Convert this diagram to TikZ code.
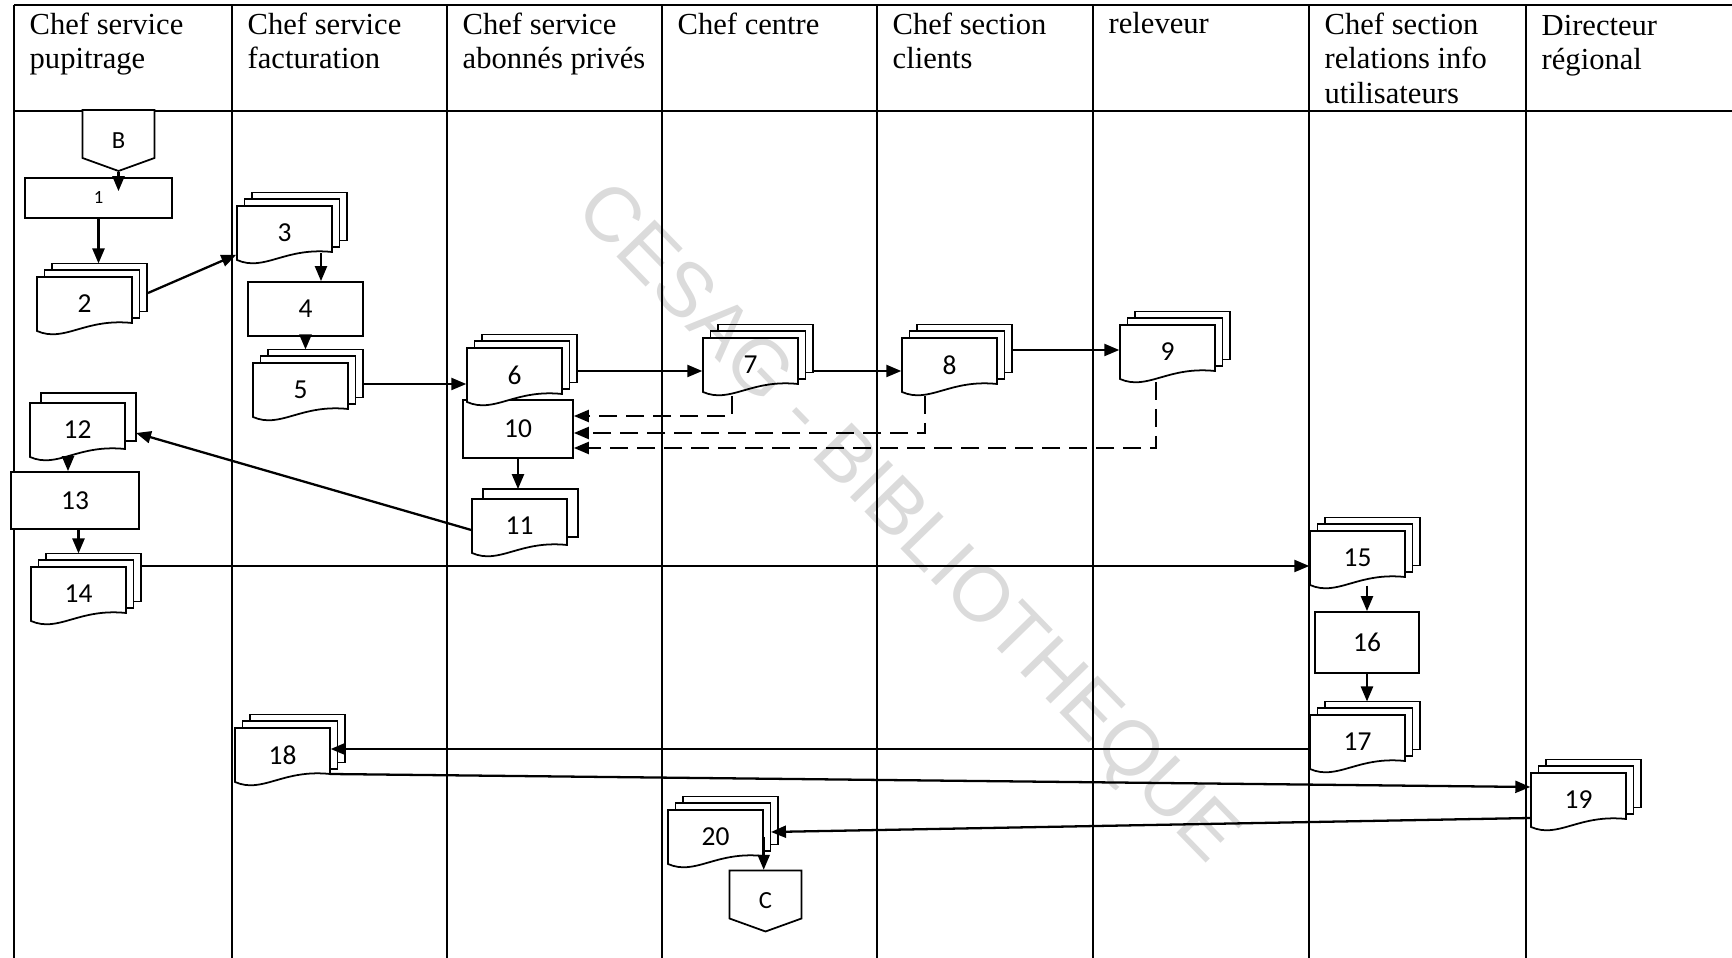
\documentclass[tikz,border=0pt]{standalone}
\usepackage{fontspec}
\setmainfont{Liberation Serif}
\newfontfamily\numfont{Carlito}
\newfontfamily\stampfont{Liberation Sans}
\usetikzlibrary{arrows.meta,calc}
\tikzset{
  >={Triangle[length=1.5mm,width=1.2mm]},
  grid/.style={line width=0.5pt},
  head/.style={font=\fontsize{8.7}{9.8}\selectfont,align=left,inner sep=0pt,anchor=north west},
  page/.style={draw,fill=white,line width=0.5pt},
  num/.style={font=\numfont\fontsize{7.8}{9}\selectfont,inner sep=0pt,
    minimum width=9.5mm,minimum height=5.4mm},
  task/.style={draw,fill=white,line width=0.5pt,inner sep=0pt,
    font=\numfont\fontsize{7.8}{9}\selectfont},
  flow/.style={->,line width=0.65pt},
  back/.style={->,line width=0.65pt,dash pattern=on 1.8mm off 0.9mm},
  stamp/.style={font=\stampfont\fontsize{22}{24}\selectfont,text=black,
    text opacity=0.14,rotate=-45.8},
  % stack of documents: #1 = shifts of the back pages (rear first), #2 = label
  pics/docs/.style 2 args={code={
    \foreach \o [count=\i] in {#1}{
      \draw[page] (-47.5+\o,-27-0.9*\o) rectangle ++(95,48);
      \ifnum\i=1 \coordinate (-top) at (0,-27-0.9*\o); \fi
    }
    \draw[page] (-47.5,-27) -- (-47.5,27) .. controls (-20,39) and (0,14) .. (47.5,19)
      -- (47.5,-27) -- cycle;
    \node[num] (-pg) at (0,0) {#2};
  }},
  % off-page connector
  pics/offpage/.style={code={
    \draw[page] (-36,-30.5) -- (-36,17.5) -- (0,30.5) -- (36,17.5) -- (36,-30.5) -- cycle;
    \node[num,font=\numfont\fontsize{7}{8}\selectfont,minimum width=7.2mm,
      minimum height=6.1mm] (-pg) at (0,0) {#1};
  }},
}
\begin{document}
\begin{tikzpicture}[x=0.1mm,y=-0.1mm]
  \path[use as bounding box,fill=white] (0,0) rectangle (1732,958);
  % lanes
  \draw[grid] (14,5) -- (1732,5) (14,111) -- (1732,111);
  \foreach \x in {14,232,447,662,877,1093,1309,1526}
    \draw[grid] (\x,5) -- (\x,958);
  \node[head] (h1) at (29,12) {Chef service\\pupitrage};
  \node[head] (h2) at (247,12) {Chef service\\facturation};
  \node[head] (h3) at (462,12) {Chef service\\abonnés privés};
  \node[head] (h4) at (677,12) {Chef centre};
  \node[head] (h5) at (892,12) {Chef section\\clients};
  \node[head] (h6) at (1108,12) {releveur};
  \node[head] (h7) at (1324,12) {Chef section\\relations info\\utilisateurs};
  \node[head] (h8) at (1541,14.5) {Directeur\\régional};

  % steps
  \pic (B) at (118.5,140.5) {offpage=B};
  \node[task,minimum width=14.7mm,minimum height=4mm] (b1) at (98.5,198)
    {\raisebox{-1.4pt}{\fontsize{5.3}{6}\selectfont 1}};
  \pic (d2) at (84.5,304) {docs={15,7.5}{2}};
  \pic (d3) at (284.5,233) {docs={15,7.5}{3}};
  \node[task,minimum width=11.5mm,minimum height=5.4mm] (b4) at (305.5,309) {4};
  \pic (d5) at (300.5,390) {docs={15,7.5}{5}};
  \node[task,minimum width=11mm,minimum height=5.8mm] (b10) at (518,429) {10};
  \pic (d6) at (514.5,375) {docs={15,7.5}{6}};
  \pic (d7) at (750.5,365) {docs={15,7.5}{7}};
  \pic (d8) at (949.5,365) {docs={15,7.5}{8}};
  \pic (d9) at (1167.5,352) {docs={15,7.5}{9}};
  \pic (d11) at (519.5,526) {docs={11}{11}};
  \pic (d12) at (77.5,430) {docs={11}{12}};
  \node[task,minimum width=12.8mm,minimum height=5.7mm] (b13) at (75,500.5) {13};
  \pic (d14) at (78.5,594) {docs={15,7.5}{14}};
  \pic (d15) at (1357.5,558) {docs={15,7.5}{15}};
  \node[task,minimum width=10.4mm,minimum height=6.1mm] (b16) at (1367,642.5) {16};
  \pic (d17) at (1357.5,742) {docs={15,7.5}{17}};
  \pic (d18) at (282.5,755) {docs={15,7.5}{18}};
  \pic (d19) at (1578.5,800) {docs={15,7.5}{19}};
  \pic (d20) at (715.5,837) {docs={15,7.5}{20}};
  \pic (C) at (765.5,901) {offpage=C};

  % flows
  \coordinate (w3) at ([shift={(36.5,20)}]d3-pg.center);
  \coordinate (o5) at ([shift={(62.5,-6)}]d5-pg.center);
  \coordinate (o6) at ([shift={(62.5,-4)}]d6-pg.center);
  \coordinate (o7) at ([shift={(62.5,6)}]d7-pg.center);
  \coordinate (o8) at ([shift={(62.5,-15)}]d8-pg.center);
  \coordinate (w12) at ([shift={(-9.5,28)}]d12-pg.center);
  \coordinate (o14) at ([shift={(62.5,-28)}]d14-pg.center);
  \coordinate (o17) at ([yshift=-0.7mm]d17-pg.west);
  \draw[flow,shorten >=-1.4mm] (B-pg.south) -- (B-pg.south |- b1.north);
  \draw[flow] (b1.south) -- (b1.south |- d2-top);
  \draw[flow] ([shift={(63.5,-11)}]d2-pg.center) -- ([yshift=0.6mm]d3-pg.south west);
  \draw[flow] (w3) -- (w3 |- b4.north);
  \draw[flow] (b4.south) -- (b4.south |- d5-top);
  \draw[flow] (o5) -- (o5 -| d6-pg.west);
  \draw[flow] (o6) -- (o6 -| d7-pg.west);
  \draw[flow] (o7) -- (o7 -| d8-pg.west);
  \draw[flow] (o8) -- (o8 -| d9-pg.west);
  \draw[back] ([shift={(-18.5,31)}]d7-pg.center) |- ([yshift=1.3mm]b10.east);
  \draw[back] ([shift={(-24.5,31)}]d8-pg.center) |- ([yshift=-0.4mm]b10.east);
  \draw[back] ([shift={(-11.5,30)}]d9-pg.center) |- ([yshift=-1.9mm]b10.east);
  \draw[flow] (b10.south) -- (b10.south |- d11-top);
  \draw[flow] ([yshift=-0.4mm]d11-pg.west) -- ([shift={(58.5,3)}]d12-pg.center);
  \draw[flow] (w12) -- (w12 |- b13.north);
  \draw[flow] (d14-top |- b13.south) -- (d14-top);
  \draw[flow] (o14) -- (o14 -| d15-pg.west);
  \draw[flow] (b16.north |- d15-pg.south) -- (b16.north);
  \draw[flow] (b16.south) -- (b16.south |- d17-top);
  \draw[flow] (o17) -- (o17 -| d18-pg.east);
  \draw[flow] ([shift={(47.5,19)}]d18-pg.center) -- ([yshift=1.3mm]d19-pg.west);
  \draw[flow] ([yshift=-1.8mm]d19-pg.west) -- ([shift={(55.5,-5)}]d20-pg.center);
  \draw[flow] (d20-pg.east) -- (d20-pg.east |- C-pg.north);

  \node[stamp] (wm) at (905,525) {CESAG - BIBLIOTHEQUE};
\end{tikzpicture}
\end{document}
